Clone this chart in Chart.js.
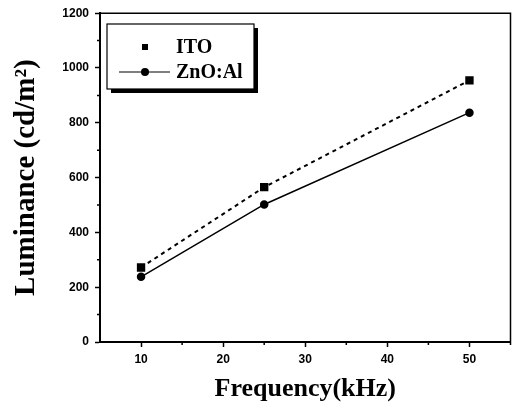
<!DOCTYPE html>
<html>
<head>
<meta charset="utf-8">
<script src="https://cdn.jsdelivr.net/npm/chart.js@4"></script>
<style>
  html, body { margin: 0; padding: 0; background: #fff; }
  #wrap { width: 517px; height: 405px; }
</style>
</head>
<body>
<div id="wrap"><canvas id="chart"></canvas></div>
<script>
const frequency = [10, 25, 50];
const itoValues = [272, 565, 955];
const znoValues = [238, 502, 837];
const xTicks = [10, 20, 30, 40, 50];
const xMinorTicks = [15, 25, 35, 45, 55];
const yMinorTicks = [100, 300, 500, 700, 900, 1100];
const seriesNames = ["ITO", "ZnO:Al"];

const toPoints = (xs, ys) => xs.map((x, i) => ({ x: x, y: ys[i] }));

// frame, minor ticks and the legend box
const extras = {
    id: "extras",
    afterDraw(chart) {
        const ctx = chart.ctx;
        const a = chart.chartArea;
        const xs = chart.scales.x, ys = chart.scales.y;
        ctx.save();
        ctx.strokeStyle = "#000";
        ctx.lineWidth = 1.5;
        ctx.beginPath();
        ctx.moveTo(a.left, a.top);
        ctx.lineTo(a.right, a.top);
        ctx.lineTo(a.right, a.bottom);
        ctx.stroke();

        ctx.lineWidth = 1.5;
        ctx.beginPath();
        xMinorTicks.forEach(v => {
            const px = xs.getPixelForValue(v);
            ctx.moveTo(px, a.bottom);
            ctx.lineTo(px, a.bottom + 3);
        });
        yMinorTicks.forEach(v => {
            const py = ys.getPixelForValue(v);
            ctx.moveTo(a.left, py);
            ctx.lineTo(a.left - 3, py);
        });
        ctx.stroke();

        // legend
        const bx = 107, by = 24, bw = 147, bh = 65;
        ctx.fillStyle = "#000";
        ctx.fillRect(bx + 4, by + 4, bw, bh);
        ctx.fillStyle = "#fff";
        ctx.fillRect(bx, by, bw, bh);
        ctx.lineWidth = 1.2;
        ctx.strokeRect(bx, by, bw, bh);

        ctx.fillStyle = "#000";
        ctx.fillRect(142, 44, 6, 6);
        ctx.lineWidth = 1;
        ctx.beginPath();
        ctx.moveTo(119, 72);
        ctx.lineTo(170, 72);
        ctx.stroke();
        ctx.beginPath();
        ctx.arc(145, 72, 4, 0, Math.PI * 2);
        ctx.fill();

        ctx.font = "bold 20px 'Liberation Serif'";
        ctx.textBaseline = "middle";
        ctx.textAlign = "left";
        ctx.fillText(seriesNames[0], 176, 48);
        ctx.fillText(seriesNames[1], 176, 73);
        ctx.restore();
    }
};

const tickFont = { family: "'Liberation Sans'", size: 12, weight: "bold" };

new Chart(document.getElementById("chart"), {
    type: "scatter",
    data: {
        datasets: [
            {
                label: seriesNames[0],
                data: toPoints(frequency, itoValues),
                showLine: true,
                borderColor: "#000",
                backgroundColor: "#000",
                borderWidth: 2,
                borderDash: [4, 4],
                pointStyle: "rect",
                pointRadius: 4.5,
                pointHoverRadius: 4.5
            },
            {
                label: seriesNames[1],
                data: toPoints(frequency, znoValues),
                showLine: true,
                borderColor: "#000",
                backgroundColor: "#000",
                borderWidth: 1.5,
                pointStyle: "circle",
                pointRadius: 3.5,
                pointHoverRadius: 3.5
            }
        ]
    },
    options: {
        responsive: true,
        maintainAspectRatio: false,
        animation: false,
        layout: { padding: { top: 13, right: 2, left: 0, bottom: 0 } },
        plugins: {
            legend: { display: false },
            tooltip: { enabled: false }
        },
        scales: {
            x: {
                type: "linear",
                min: 5,
                max: 55,
                afterBuildTicks: s => { s.ticks = xTicks.map(v => ({ value: v })); },
                afterFit: s => { s.height = 63; },
                grid: { drawOnChartArea: false, tickLength: 5, tickWidth: 1.5, color: "#000" },
                border: { color: "#000", width: 2 },
                ticks: {
                    color: "#000",
                    padding: 5,
                    maxRotation: 0,
                    callback: v => String(v),
                    font: tickFont
                },
                title: {
                    display: true,
                    text: "Frequency(kHz)",
                    color: "#000",
                    padding: 0,
                    font: { family: "'Liberation Serif'", size: 26, weight: "bold" }
                }
            },
            y: {
                min: 0,
                max: 1200,
                ticks: {
                    stepSize: 200,
                    color: "#000",
                    padding: 6,
                    callback: v => String(v),
                    font: tickFont
                },
                afterFit: s => { s.width = 100; },
                grid: { drawOnChartArea: false, tickLength: 5, tickWidth: 1.5, color: "#000" },
                border: { color: "#000", width: 2 },
                title: {
                    display: true,
                    text: "Luminance (cd/m²)",
                    color: "#000",
                    padding: { top: 9, bottom: 0 },
                    font: { family: "'Liberation Serif'", size: 29, weight: "bold" }
                }
            }
        }
    },
    plugins: [extras]
});
</script>
</body>
</html>
